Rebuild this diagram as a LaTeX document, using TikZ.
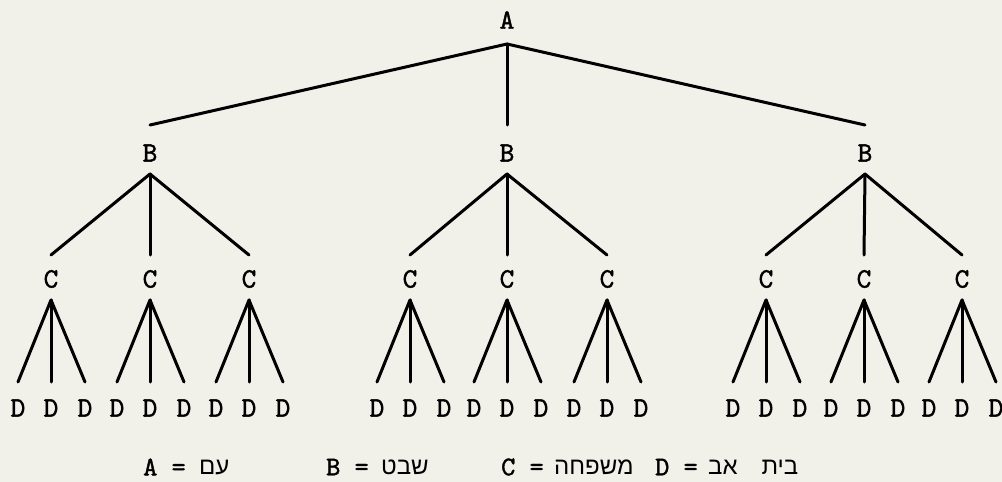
\documentclass[tikz,border=0pt]{standalone}
\usepackage{fontspec}
\newfontfamily\hebfont[Script=Hebrew]{Liberation Sans}
\newfontfamily\twfont[FakeBold=1.5]{lmmono10-regular.otf}
\TeXXeTstate=1
\definecolor{paper}{RGB}{241,240,233}
\begin{document}
\begin{tikzpicture}[x=1pt,y=-1pt,
  lab/.style={font=\twfont\fontsize{28}{28}\selectfont, inner sep=0pt},
  leg/.style={font=\twfont\fontsize{27}{27}\selectfont, inner sep=0pt, anchor=west},
  hleg/.style={font=\hebfont\fontsize{24}{24}\selectfont, inner sep=0pt, anchor=west},
  edge/.style={line width=3pt, line cap=round}]
\fill[paper] (0,0) rectangle (1002,482);
\useasboundingbox (0,0) rectangle (1002,482);
\node[lab] (A) at (507,20) {A};
\coordinate (a) at (507,44);
\foreach \g/\bx in {1/150,2/507,3/865} {
  \coordinate (bt\g) at (\bx,125);
  \node[lab] (B\g) at (\bx,153) {B};
  \coordinate (b\g) at (\bx,174);
  \draw[edge] (a) -- (bt\g);
}
\foreach \g/\j/\cx in {1/1/51,1/2/150,1/3/249,2/1/410,2/2/507,2/3/607,3/1/766,3/2/864,3/3/962} {
  \coordinate (ct\g\j) at (\cx,255);
  \node[lab] (C\g\j) at (\cx,279) {C};
  \coordinate (c\g\j) at (\cx,300);
  \draw[edge] (b\g) -- (ct\g\j);
  \foreach \k/\dx in {1/-33,2/0,3/34} {
    \coordinate (d\g\j\k) at (\cx+\dx,382);
    \node[lab] (D\g\j\k) at (\cx+\dx,408) {D};
    \draw[edge] (c\g\j) -- (d\g\j\k);
  }
}
% legend
\node[leg] (LA) at (143,467) {A =};
\node[hleg] (HA) at (199,467) {\beginR עם\endR};
\node[leg] (LB) at (326,467) {B =};
\node[hleg] (HB) at (381,467) {\beginR שבט\endR};
\node[leg] (LC) at (501,467) {C =};
\node[hleg] (HC) at (554,467) {\beginR משפחה\endR};
\node[leg] (LD) at (655,467) {D =};
\node[hleg] (HD) at (708,467) {\beginR בית\hspace{24pt}אב\endR};
\end{tikzpicture}
\end{document}
